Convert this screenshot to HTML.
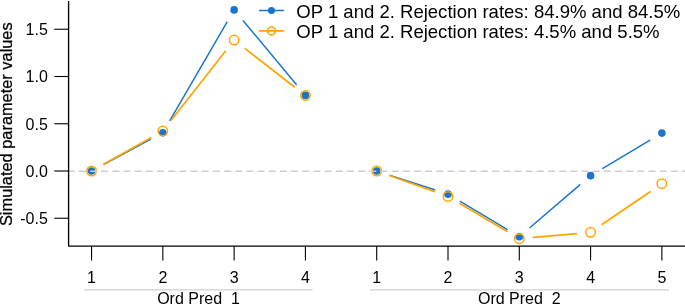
<!DOCTYPE html>
<html><head><meta charset="utf-8"><title>plot</title>
<style>
html,body{margin:0;padding:0;background:#fff;}
body{width:685px;height:305px;overflow:hidden;}
svg text{font-family:"Liberation Sans",sans-serif;fill:#000;}
.t{font-size:16px;}
.l{font-size:18.55px;}
</style></head><body>
<svg width="685" height="305" viewBox="0 0 685 305" style="display:block">
<rect width="685" height="305" fill="#fff"/>
<line x1="104.06" y1="164.28" x2="150.33" y2="139.44" stroke="#1874CD" stroke-width="1.45" stroke-linecap="round"/>
<line x1="169.97" y1="120.45" x2="227.00" y2="22.16" stroke="#1874CD" stroke-width="1.45" stroke-linecap="round"/>
<line x1="243.22" y1="20.78" x2="296.33" y2="84.49" stroke="#1874CD" stroke-width="1.45" stroke-linecap="round"/>
<circle cx="91.55" cy="171.00" r="3.8" fill="#1874CD"/>
<circle cx="162.84" cy="132.73" r="3.8" fill="#1874CD"/>
<circle cx="234.13" cy="9.88" r="3.8" fill="#1874CD"/>
<circle cx="305.42" cy="95.40" r="3.8" fill="#1874CD"/>
<line x1="390.22" y1="175.39" x2="434.49" y2="189.77" stroke="#1874CD" stroke-width="1.45" stroke-linecap="round"/>
<line x1="460.19" y1="201.44" x2="507.10" y2="229.49" stroke="#1874CD" stroke-width="1.45" stroke-linecap="round"/>
<line x1="530.07" y1="227.53" x2="579.80" y2="184.87" stroke="#1874CD" stroke-width="1.45" stroke-linecap="round"/>
<line x1="602.78" y1="168.36" x2="649.67" y2="140.38" stroke="#1874CD" stroke-width="1.45" stroke-linecap="round"/>
<circle cx="376.71" cy="171.00" r="3.8" fill="#1874CD"/>
<circle cx="448.00" cy="194.15" r="3.8" fill="#1874CD"/>
<circle cx="519.29" cy="236.77" r="3.8" fill="#1874CD"/>
<circle cx="590.58" cy="175.63" r="3.8" fill="#1874CD"/>
<circle cx="661.87" cy="133.11" r="3.8" fill="#1874CD"/>
<line x1="103.93" y1="164.04" x2="150.46" y2="137.89" stroke="#FFA500" stroke-width="1.75" stroke-linecap="round"/>
<line x1="171.61" y1="119.76" x2="225.36" y2="51.29" stroke="#FFA500" stroke-width="1.75" stroke-linecap="round"/>
<line x1="245.35" y1="48.82" x2="294.20" y2="86.70" stroke="#FFA500" stroke-width="1.75" stroke-linecap="round"/>
<circle cx="91.55" cy="171.00" r="4.75" fill="none" stroke="#FFA500" stroke-width="1.5"/>
<circle cx="162.84" cy="130.93" r="4.75" fill="none" stroke="#FFA500" stroke-width="1.5"/>
<circle cx="234.13" cy="40.12" r="4.75" fill="none" stroke="#FFA500" stroke-width="1.5"/>
<circle cx="305.42" cy="95.40" r="4.75" fill="none" stroke="#FFA500" stroke-width="1.5"/>
<line x1="390.09" y1="175.77" x2="434.62" y2="191.65" stroke="#FFA500" stroke-width="1.75" stroke-linecap="round"/>
<line x1="460.22" y1="203.66" x2="507.07" y2="231.42" stroke="#FFA500" stroke-width="1.75" stroke-linecap="round"/>
<line x1="533.43" y1="237.41" x2="576.44" y2="233.59" stroke="#FFA500" stroke-width="1.75" stroke-linecap="round"/>
<line x1="602.31" y1="224.32" x2="650.14" y2="191.67" stroke="#FFA500" stroke-width="1.75" stroke-linecap="round"/>
<circle cx="376.71" cy="171.00" r="4.75" fill="none" stroke="#FFA500" stroke-width="1.5"/>
<circle cx="448.00" cy="196.42" r="4.75" fill="none" stroke="#FFA500" stroke-width="1.5"/>
<circle cx="519.29" cy="238.66" r="4.75" fill="none" stroke="#FFA500" stroke-width="1.5"/>
<circle cx="590.58" cy="232.33" r="4.75" fill="none" stroke="#FFA500" stroke-width="1.5"/>
<circle cx="661.87" cy="183.66" r="4.75" fill="none" stroke="#FFA500" stroke-width="1.5"/>
<line x1="68.2" y1="171.25" x2="690" y2="171.25" stroke="#cdcdcd" stroke-width="1.43" stroke-dasharray="5.95 5.22" stroke-linecap="round"/>
<path d="M68.6 1 V246.05 H687" fill="none" stroke="#000" stroke-width="1.35" stroke-linejoin="round"/>
<line x1="54.3" y1="29.25" x2="68.5" y2="29.25" stroke="#000" stroke-width="1.1"/>
<text x="47.8" y="35.05" text-anchor="end" class="t">1.5</text>
<line x1="54.3" y1="76.50" x2="68.5" y2="76.50" stroke="#000" stroke-width="1.1"/>
<text x="47.8" y="82.30" text-anchor="end" class="t">1.0</text>
<line x1="54.3" y1="123.75" x2="68.5" y2="123.75" stroke="#000" stroke-width="1.1"/>
<text x="47.8" y="129.55" text-anchor="end" class="t">0.5</text>
<line x1="54.3" y1="171.00" x2="68.5" y2="171.00" stroke="#000" stroke-width="1.1"/>
<text x="47.8" y="176.80" text-anchor="end" class="t">0.0</text>
<line x1="54.3" y1="218.25" x2="68.5" y2="218.25" stroke="#000" stroke-width="1.1"/>
<text x="47.8" y="224.05" text-anchor="end" class="t">-0.5</text>
<line x1="91.55" y1="246.05" x2="91.55" y2="260.4" stroke="#000" stroke-width="1.1"/>
<text x="91.55" y="283.2" text-anchor="middle" class="t">1</text>
<line x1="162.84" y1="246.05" x2="162.84" y2="260.4" stroke="#000" stroke-width="1.1"/>
<text x="162.84" y="283.2" text-anchor="middle" class="t">2</text>
<line x1="234.13" y1="246.05" x2="234.13" y2="260.4" stroke="#000" stroke-width="1.1"/>
<text x="234.13" y="283.2" text-anchor="middle" class="t">3</text>
<line x1="305.42" y1="246.05" x2="305.42" y2="260.4" stroke="#000" stroke-width="1.1"/>
<text x="305.42" y="283.2" text-anchor="middle" class="t">4</text>
<line x1="376.71" y1="246.05" x2="376.71" y2="260.4" stroke="#000" stroke-width="1.1"/>
<text x="376.71" y="283.2" text-anchor="middle" class="t">1</text>
<line x1="448.00" y1="246.05" x2="448.00" y2="260.4" stroke="#000" stroke-width="1.1"/>
<text x="448.00" y="283.2" text-anchor="middle" class="t">2</text>
<line x1="519.29" y1="246.05" x2="519.29" y2="260.4" stroke="#000" stroke-width="1.1"/>
<text x="519.29" y="283.2" text-anchor="middle" class="t">3</text>
<line x1="590.58" y1="246.05" x2="590.58" y2="260.4" stroke="#000" stroke-width="1.1"/>
<text x="590.58" y="283.2" text-anchor="middle" class="t">4</text>
<line x1="661.87" y1="246.05" x2="661.87" y2="260.4" stroke="#000" stroke-width="1.1"/>
<text x="661.87" y="283.2" text-anchor="middle" class="t">5</text>
<line x1="84.42" y1="289.8" x2="312.55" y2="289.8" stroke="#cfcfcf" stroke-width="1.2"/>
<text x="198.49" y="304.4" text-anchor="middle" class="t" xml:space="preserve">Ord Pred  1</text>
<line x1="369.58" y1="289.8" x2="669.00" y2="289.8" stroke="#cfcfcf" stroke-width="1.2"/>
<text x="519.29" y="304.4" text-anchor="middle" class="t" xml:space="preserve">Ord Pred  2</text>
<text transform="translate(12.2,124.2) rotate(-90)" text-anchor="middle" class="t" style="font-size:16.36px;stroke:#000;stroke-width:0.25px">Simulated parameter values</text>
<line x1="259.6" y1="10.5" x2="283.5" y2="10.5" stroke="#1874CD" stroke-width="1.45" stroke-linecap="round"/>
<circle cx="271.5" cy="10.5" r="3.55" fill="#1874CD"/>
<line x1="259.6" y1="30.9" x2="283.5" y2="30.9" stroke="#FFA500" stroke-width="1.75" stroke-linecap="round"/>
<circle cx="271.5" cy="30.95" r="3.95" fill="none" stroke="#FFA500" stroke-width="1.7"/>
<text x="296.3" y="17.5" class="l">OP 1 and 2. Rejection rates: 84.9% and 84.5%</text>
<text x="296.3" y="37.5" class="l">OP 1 and 2. Rejection rates: 4.5% and 5.5%</text>
</svg>
</body></html>
